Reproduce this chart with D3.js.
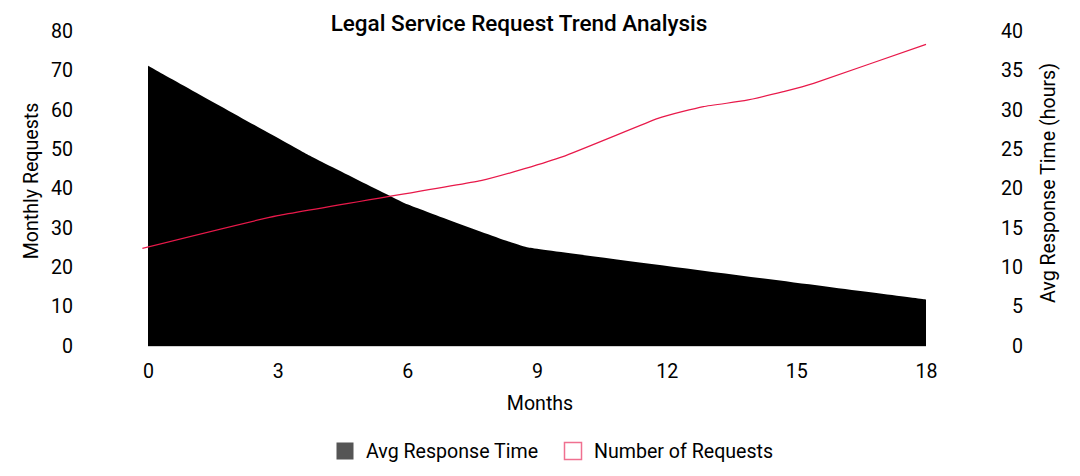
<!DOCTYPE html>
<html>
<head>
<meta charset="utf-8">
<script src="https://cdn.jsdelivr.net/npm/d3@7"></script>
<style>
  html, body { margin: 0; padding: 0; background: #fff; }
  svg { display: block; font-family: Roboto, "Noto Sans", sans-serif; }
</style>
</head>
<body>
<svg id="chart" width="1080" height="476"></svg>
<script>
// ---- data ----
const title = "Legal Service Request Trend Analysis";
const xTicks = [0, 3, 6, 9, 12, 15, 18];
const leftTicks = [0, 10, 20, 30, 40, 50, 60, 70, 80];
const rightTicks = [0, 5, 10, 15, 20, 25, 30, 35, 40];

const responseMonths = [0, 3.7, 6, 8.8, 18];
const responseHours = [35.6, 24.3, 18.0, 12.5, 5.9];

const requestMonths = [-0.13, 3, 7.7, 9.6, 11.8, 12.85, 13.8, 14.7, 15.4, 18];
const requestCounts = [24.8, 33.1, 42.0, 48.1, 57.8, 60.8, 62.3, 64.6, 66.7, 76.6];

const seriesNames = ["Avg Response Time", "Number of Requests"];

// ---- layout ----
const svg = d3.select("#chart");
const plot = { left: 148, right: 926, top: 31, bottom: 346 };

const x = d3.scaleLinear().domain([0, 18]).range([plot.left, plot.right]);
const yL = d3.scaleLinear().domain([0, 80]).range([plot.bottom, plot.top]);
const yR = d3.scaleLinear().domain([0, 40]).range([plot.bottom, plot.top]);

const respData = responseMonths.map((m, i) => ({ m, v: responseHours[i] }));
const reqData = requestMonths.map((m, i) => ({ m, v: requestCounts[i] }));

// area
const area = d3.area()
  .x(d => x(d.m))
  .y0(yR(0))
  .y1(d => yR(d.v))
  .curve(d3.curveCardinal.tension(0.85));
svg.append("path")
  .datum(respData)
  .attr("d", area)
  .attr("fill", "#000");

// baseline
svg.append("line")
  .attr("x1", x(0)).attr("x2", x(18))
  .attr("y1", plot.bottom + 0.5).attr("y2", plot.bottom + 0.5)
  .attr("stroke", "#d0d0d0").attr("stroke-width", 1);

// line
const line = d3.line()
  .x(d => x(d.m))
  .y(d => yL(d.v))
  .curve(d3.curveCardinal.tension(0.6));
svg.append("path")
  .datum(reqData)
  .attr("d", line)
  .attr("fill", "none")
  .attr("stroke", "#e8194a")
  .attr("stroke-width", 1.2);

// axes (labels only)
const fs = 19.6;
const xAxis = d3.axisBottom(x).tickValues(xTicks).tickSize(0).tickPadding(0).tickFormat(d3.format("d"));
const gx = svg.append("g").attr("transform", `translate(0,${plot.bottom + 18})`).call(xAxis);
gx.select(".domain").remove();
gx.selectAll("text").attr("font-size", fs).attr("fill", "#000").attr("font-family", "Roboto");

const yAxisL = d3.axisLeft(yL).tickValues(leftTicks).tickSize(0).tickPadding(0);
const gl = svg.append("g").attr("transform", `translate(73,0)`).call(yAxisL);
gl.select(".domain").remove();
gl.selectAll("text").attr("font-size", fs).attr("fill", "#000").attr("font-family", "Roboto");

const yAxisR = d3.axisRight(yR).tickValues(rightTicks).tickSize(0).tickPadding(0);
const gr = svg.append("g").attr("transform", `translate(1023,0)`).call(yAxisR);
gr.select(".domain").remove();
gr.selectAll("text").attr("font-size", fs).attr("fill", "#000").attr("font-family", "Roboto")
  .attr("text-anchor", "end");

// titles
svg.append("text")
  .attr("x", 519).attr("y", 31)
  .attr("text-anchor", "middle")
  .attr("font-size", 22.5).attr("font-weight", 500)
  .attr("fill", "#000")
  .text(title);

svg.append("text")
  .attr("x", 540).attr("y", 410)
  .attr("text-anchor", "middle")
  .attr("font-size", fs).attr("fill", "#000")
  .text("Months");

svg.append("text")
  .attr("transform", `translate(38,181) rotate(-90)`)
  .attr("text-anchor", "middle")
  .attr("font-size", fs).attr("fill", "#000")
  .text("Monthly Requests");

svg.append("text")
  .attr("transform", `translate(1055,183) rotate(-90)`)
  .attr("text-anchor", "middle")
  .attr("font-size", fs).attr("fill", "#000")
  .text("Avg Response Time (hours)");

// legend
const legend = svg.append("g");
const legItems = [
  { name: seriesNames[0], x: 336, fill: "#555555", stroke: "none" },
  { name: seriesNames[1], x: 564, fill: "#ffffff", stroke: "#f07090" }
];
legItems.forEach(it => {
  legend.append("rect")
    .attr("x", it.x + 0.5).attr("y", 442.5)
    .attr("width", 17).attr("height", 17)
    .attr("fill", it.fill)
    .attr("stroke", it.stroke).attr("stroke-width", 1.5);
  legend.append("text")
    .attr("x", it.x + 30).attr("y", 458)
    .attr("font-size", fs).attr("fill", "#000")
    .text(it.name);
});
</script>
</body>
</html>
